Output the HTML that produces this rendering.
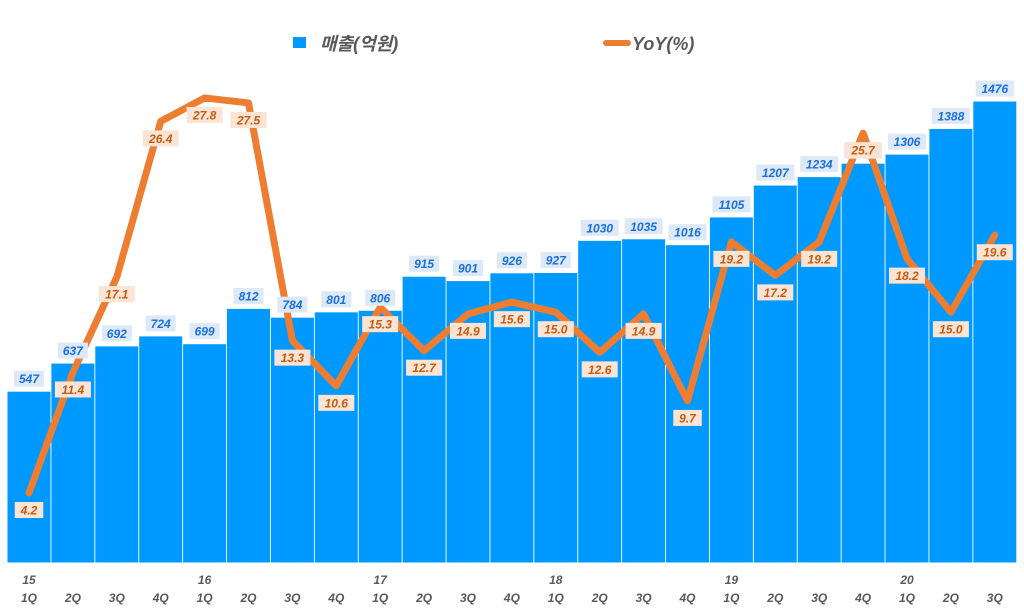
<!DOCTYPE html>
<html><head><meta charset="utf-8"><style>
body{margin:0;background:#fff}
text{font-family:"Liberation Sans","Noto Sans CJK KR",sans-serif;font-style:italic;font-weight:bold}
</style></head><body>
<svg width="1024" height="610" xmlns="http://www.w3.org/2000/svg" id="s">
<rect width="1024" height="610" fill="#fff"/>
<rect x="293" y="37" width="13" height="11" fill="#0099ff"/>
<text x="320" y="50" font-size="18" fill="#595959">매출(억원)</text>
<line x1="606" y1="43" x2="628" y2="43" stroke="#ed7d31" stroke-width="6" stroke-linecap="round"/>
<text x="632" y="50" font-size="18" fill="#595959">YoY(%)</text>
<g id="g"></g>
</svg>
<script>
const S=[547,637,692,724,699,812,784,801,806,915,901,926,927,1030,1035,1016,1105,1207,1234,1277,1306,1388,1476];
const Y=[4.2,11.4,17.1,26.4,27.8,27.5,13.3,10.6,15.3,12.7,14.9,15.6,15.0,12.6,14.9,9.7,19.2,17.2,19.2,25.7,18.2,15.0,19.6];
const yr={0:"15",4:"16",8:"17",12:"18",16:"19",20:"20"};
const q=["1Q","2Q","3Q","4Q"];
let h="";const B=562.5,W=43.9;
const cx=i=>29+i*W;
S.forEach((v,i)=>{const t=B-v*0.3123;h+=`<rect x="${cx(i)-21.5}" y="${t}" width="43" height="${B-t}" fill="#0099ff"/>`;});
let p=Y.map((v,i)=>`${cx(i)},${563.3-v*16.74}`).join(" ");
h+=`<polyline points="${p}" fill="none" stroke="#ed7d31" stroke-width="7" stroke-linejoin="round" stroke-linecap="round"/>`;
S.forEach((v,i)=>{const t=B-v*0.3123-13;const w=String(v).length*8+6;
h+=`<rect x="${cx(i)-w/2}" y="${t-8}" width="${w}" height="16" fill="#dde9f6"/><text x="${cx(i)}" y="${t+4.5}" font-size="12" fill="#1a6fe0" text-anchor="middle">${v}</text>`;});
Y.forEach((v,i)=>{const t=563.3-v*16.74+17;const s=v.toFixed(1);const w=s.length*7.5+6;
h+=`<rect x="${cx(i)-w/2}" y="${t-8}" width="${w}" height="16" fill="#fce4d4"/><text x="${cx(i)}" y="${t+4.5}" font-size="12" fill="#c55a11" text-anchor="middle">${s}</text>`;});
S.forEach((v,i)=>{if(yr[i])h+=`<text x="${cx(i)}" y="584" font-size="12" fill="#595959" text-anchor="middle">${yr[i]}</text>`;
h+=`<text x="${cx(i)}" y="602" font-size="12" fill="#595959" text-anchor="middle">${q[i%4]}</text>`;});
document.getElementById("g").innerHTML=h;
</script>
</body></html>
